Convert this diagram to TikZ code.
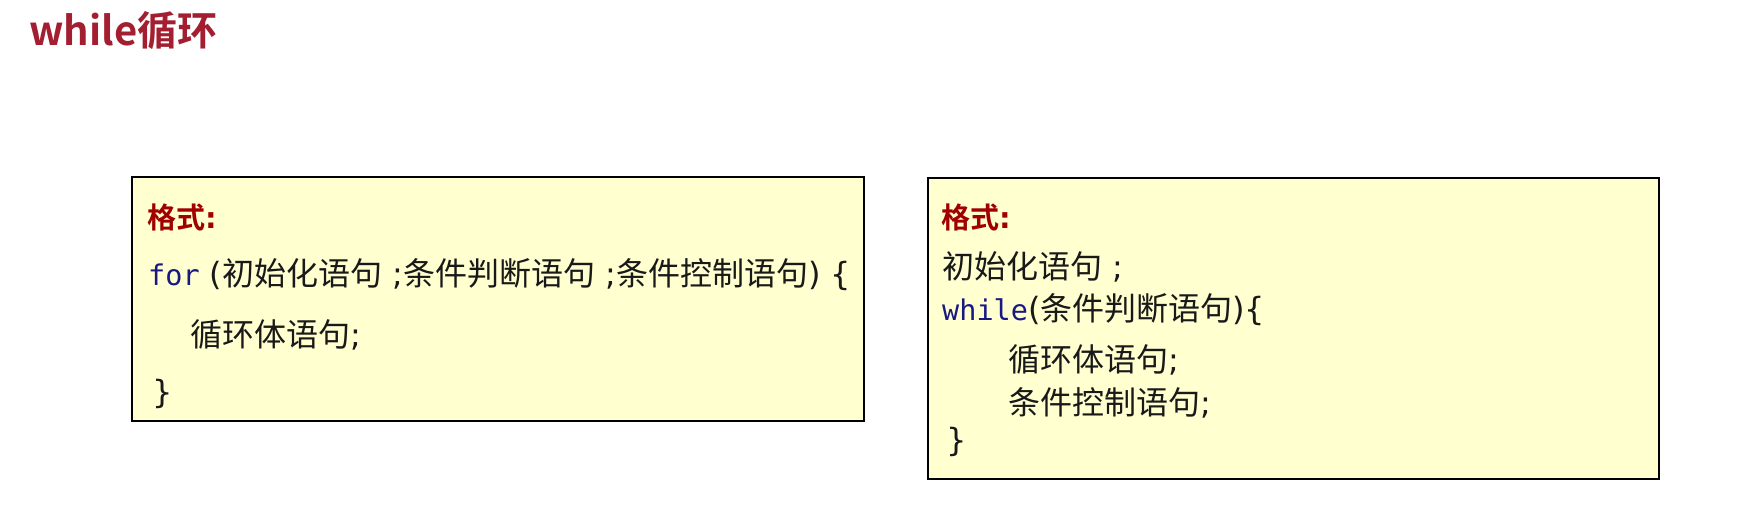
\documentclass[tikz,border=0pt]{standalone}
\usepackage{fontspec}
\setmainfont{Noto Sans CJK SC}[BoldFont={Noto Sans CJK SC Bold}]
\newfontfamily\codefont{DejaVu Sans Mono}
\newfontfamily\punctfont{DejaVu Sans}
\definecolor{titlered}{RGB}{163,30,48}
\definecolor{headred}{RGB}{160,0,0}
\definecolor{codeblue}{RGB}{25,25,130}
\definecolor{boxfill}{RGB}{255,255,208}
\definecolor{txt}{RGB}{25,25,25}
\tikzset{
  panel/.style={draw=black, line width=1.6pt, fill=boxfill, anchor=north west, inner sep=0pt},
  line/.style={anchor=west, inner sep=0pt, text=txt, font=\fontsize{32}{32}\selectfont},
  head/.style={anchor=west, inner sep=0pt, text=headred, font=\fontsize{29}{29}\selectfont\bfseries},
  titletext/.style={anchor=west, inner sep=0pt, text=titlered, font=\fontsize{40}{40}\selectfont\bfseries},
}
\newcommand{\kw}[1]{{\color{codeblue}\codefont\fontsize{28.5}{28.5}\selectfont #1}}
\newcommand{\pt}[1]{{\punctfont #1}}
\begin{document}
\begin{tikzpicture}[x=1pt,y=-1pt]
\useasboundingbox (0,0) rectangle (1752,506);
\node[titletext] (title) at (29,31) {while循环};
% left panel
\node[panel, minimum width=732pt, minimum height=244pt] (lbox) at (131,176) {};
\node[head] (lhead) at (147,217) {格式\pt{:}};
\node[line] (lfor) at (148,275) {\kw{for}\pt{ (}初始化语句\pt{ ;}条件判断语句\pt{ ;}条件控制语句\pt{) \{}};
\node[line] (lbody) at (190,335) {循环体语句\pt{;}};
\node[line] (lend) at (152,394) {\pt{\}}};
% right panel
\node[panel, minimum width=731pt, minimum height=301pt] (rbox) at (927,177) {};
\node[head] (rhead) at (941,217) {格式\pt{:}};
\node[line] (rinit) at (942,267) {初始化语句\pt{ ;}};
\node[line] (rwhile) at (942,310) {\kw{while}\pt{(}条件判断语句\pt{)\{}};
\node[line] (rbody) at (1008,360) {循环体语句\pt{;}};
\node[line] (rctrl) at (1008,403) {条件控制语句\pt{;}};
\node[line] (rend) at (946,442) {\pt{\}}};
\end{tikzpicture}
\end{document}
